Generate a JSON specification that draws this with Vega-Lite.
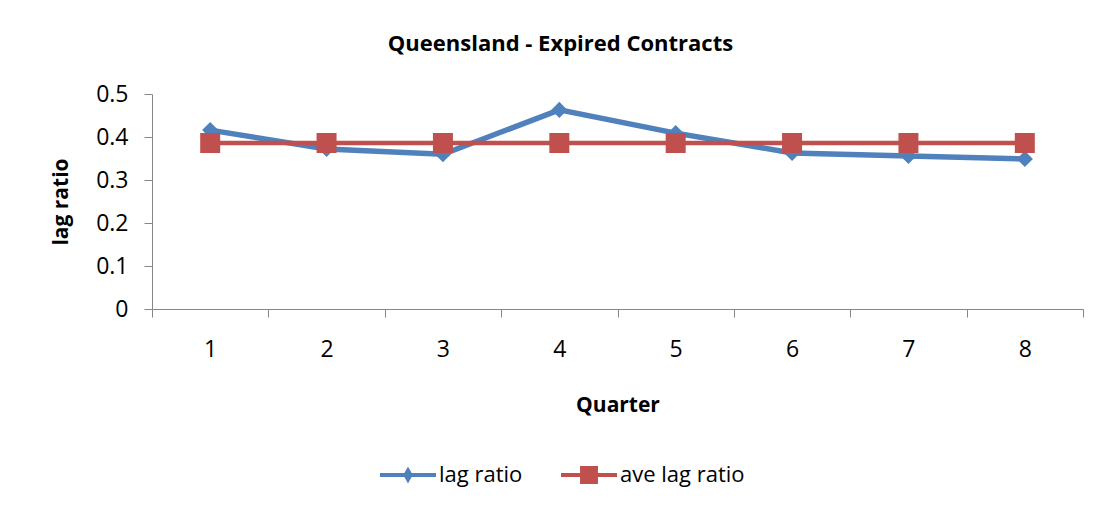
{
  "$schema": "https://vega.github.io/schema/vega-lite/v6.json",
  "autosize": "none",
  "width": 931,
  "height": 215,
  "padding": {"left": 152, "top": 94, "right": 21, "bottom": 204},
  "background": "white",
  "config": {
    "font": "Open Sans",
    "view": {"stroke": null}
  },
  "title": {
    "text": "Queensland - Expired Contracts",
    "fontSize": 22,
    "fontWeight": "bold",
    "font": "Open Sans",
    "color": "#000000",
    "anchor": "middle",
    "dx": -57,
    "offset": 27
  },
  "data": {
    "values": [
      {"quarter": "1", "series": "lag ratio", "value": 0.416},
      {"quarter": "2", "series": "lag ratio", "value": 0.372},
      {"quarter": "3", "series": "lag ratio", "value": 0.360},
      {"quarter": "4", "series": "lag ratio", "value": 0.463},
      {"quarter": "5", "series": "lag ratio", "value": 0.409},
      {"quarter": "6", "series": "lag ratio", "value": 0.363},
      {"quarter": "7", "series": "lag ratio", "value": 0.356},
      {"quarter": "8", "series": "lag ratio", "value": 0.349},
      {"quarter": "1", "series": "ave lag ratio", "value": 0.386},
      {"quarter": "2", "series": "ave lag ratio", "value": 0.386},
      {"quarter": "3", "series": "ave lag ratio", "value": 0.386},
      {"quarter": "4", "series": "ave lag ratio", "value": 0.386},
      {"quarter": "5", "series": "ave lag ratio", "value": 0.386},
      {"quarter": "6", "series": "ave lag ratio", "value": 0.386},
      {"quarter": "7", "series": "ave lag ratio", "value": 0.386},
      {"quarter": "8", "series": "ave lag ratio", "value": 0.386}
    ]
  },
  "encoding": {
    "x": {
      "field": "quarter",
      "type": "ordinal",
      "sort": null,
      "scale": {"type": "band", "paddingInner": 0, "paddingOuter": 0},
      "axis": {
        "title": "Quarter",
        "titleFontSize": 21,
        "titleFontWeight": "bold",
        "titleColor": "#000000",
        "titlePadding": 33,
        "labelAngle": 0,
        "labelFontSize": 23,
        "labelColor": "#000000",
        "labelPadding": 21,
        "tickBand": "extent",
        "tickSize": 8,
        "tickColor": "#868686",
        "domainColor": "#868686",
        "grid": false
      }
    },
    "y": {
      "field": "value",
      "type": "quantitative",
      "scale": {"domain": [0, 0.5]},
      "axis": {
        "title": "lag ratio",
        "titleFontSize": 21,
        "titleFontWeight": "bold",
        "titleColor": "#000000",
        "titlePadding": 24,
        "values": [0, 0.1, 0.2, 0.3, 0.4, 0.5],
        "format": "~g",
        "labelFontSize": 23,
        "labelColor": "#000000",
        "labelPadding": 16,
        "tickSize": 8,
        "tickColor": "#868686",
        "domainColor": "#868686",
        "grid": false
      }
    },
    "color": {
      "field": "series",
      "type": "nominal",
      "scale": {"domain": ["lag ratio", "ave lag ratio"], "range": ["#4F81BD", "#C0504D"]},
      "legend": {
        "title": null,
        "orient": "none",
        "direction": "horizontal",
        "legendX": 228,
        "legendY": 353,
        "labelFontSize": 22,
        "labelColor": "#000000",
        "symbolSize": 3136,
        "symbolStrokeWidth": 0,
        "symbolOpacity": 1,
        "columnPadding": 38,
        "labelOffset": 3,
        "symbolType": "M-1,-0.07H1V0.07H-1Z",
        "encode": {
          "symbols": {
            "update": {
              "shape": {"signal": "datum.value === 'lag ratio' ? 'M-1,-0.07H1V0.07H-1Z M0,-0.3L0.17,0L0,0.3L-0.17,0Z' : 'M-1,-0.07H1V0.07H-1Z M-0.32,-0.32H0.32V0.32H-0.32Z'"},
              "strokeWidth": {"value": 0}
            }
          }
        }
      }
    }
  },
  "layer": [
    {
      "transform": [{"filter": "datum.series === 'lag ratio'"}],
      "mark": {"type": "line", "strokeWidth": 5.5}
    },
    {
      "transform": [{"filter": "datum.series === 'ave lag ratio'"}],
      "mark": {"type": "line", "strokeWidth": 4.5}
    },
    {
      "transform": [{"filter": "datum.series === 'lag ratio'"}],
      "mark": {"type": "point", "filled": true, "opacity": 1, "shape": "diamond", "size": 260}
    },
    {
      "transform": [{"filter": "datum.series === 'ave lag ratio'"}],
      "mark": {"type": "point", "filled": true, "opacity": 1, "shape": "square", "size": 400}
    }
  ]
}
